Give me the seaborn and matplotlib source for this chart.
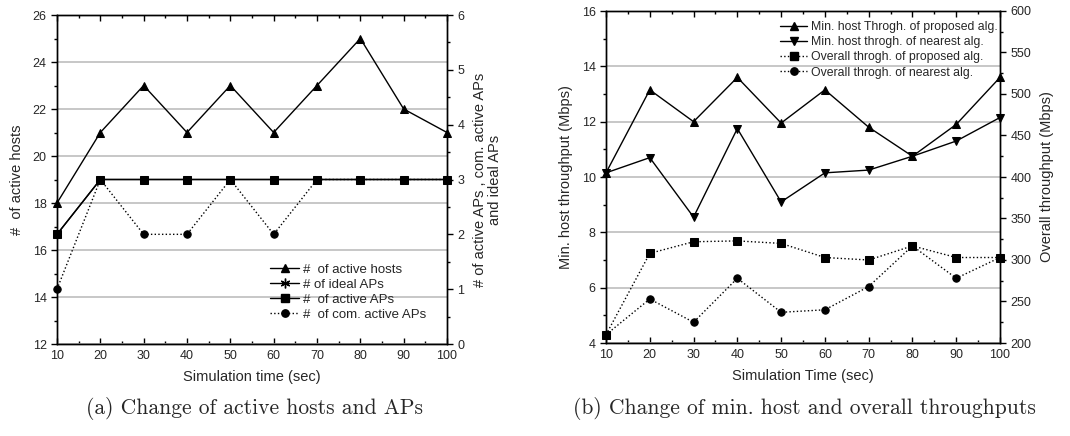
import numpy as np
import pandas as pd
import matplotlib
matplotlib.use("Agg")
import matplotlib.pyplot as plt
from matplotlib.ticker import MultipleLocator
from matplotlib.lines import Line2D
import seaborn as sns

# ---- data ----
time = [10, 20, 30, 40, 50, 60, 70, 80, 90, 100]

# (a) active hosts and APs
active_hosts = [18, 21, 23, 21, 23, 21, 23, 25, 22, 21]
ideal_aps = [2, 3, 3, 3, 3, 3, 3, 3, 3, 3]
active_aps = [2, 3, 3, 3, 3, 3, 3, 3, 3, 3]
com_active_aps = [1, 3, 2, 2, 3, 2, 3, 3, 3, 3]

# (b) throughputs
min_thr_proposed = [10.15, 13.15, 12.0, 13.6, 11.95, 13.15, 11.8, 10.75, 11.9, 13.6]
min_thr_nearest = [10.15, 10.7, 8.55, 11.75, 9.1, 10.15, 10.25, 10.75, 11.3, 12.15]
overall_proposed = [210, 308, 322, 323, 320, 303, 300, 317, 303, 303]
overall_nearest = [210, 253, 225, 278, 237, 240, 268, 317, 278, 303]

sns.set_style("ticks")
plt.rcParams["font.family"] = ["Liberation Sans", "DejaVu Sans"]
plt.rcParams["axes.linewidth"] = 1.0

W, H = 1070, 436
fig = plt.figure(figsize=(W / 100, H / 100), dpi=100)

TRI, SQ, CIR = 6, 5.2, 5.3


def box(x0, x1, y0, y1):
    return [x0 / W, 1 - y1 / H, (x1 - x0) / W, (y1 - y0) / H]


def style_axes(ax, ax2, ymaj, ymin, y2maj, y2min):
    ax.set_xlim(10, 100)
    ax.xaxis.set_major_locator(MultipleLocator(10))
    ax.xaxis.set_minor_locator(MultipleLocator(5))
    ax.yaxis.set_major_locator(MultipleLocator(ymaj))
    ax.yaxis.set_minor_locator(MultipleLocator(ymin))
    ax2.yaxis.set_major_locator(MultipleLocator(y2maj))
    ax2.yaxis.set_minor_locator(MultipleLocator(y2min))
    ax.tick_params(axis="x", which="both", direction="in", top=True, bottom=True,
                   labelsize=9, color="k", pad=4)
    ax.tick_params(axis="x", which="major", length=4, width=1)
    ax.tick_params(axis="x", which="minor", length=2.5, width=1)
    for a in (ax, ax2):
        a.tick_params(axis="y", which="both", direction="out", labelsize=9, color="k")
        a.tick_params(axis="y", which="major", length=4, width=1)
        a.tick_params(axis="y", which="minor", length=2.5, width=1)
    ax2.tick_params(axis="x", which="both", top=False, bottom=False, labelbottom=False)
    ax.grid(True, axis="y", which="major", color="#bdbdbd", lw=1.2)
    ax.set_axisbelow(True)
    for a in (ax, ax2):
        for s in a.spines.values():
            s.set_visible(True)
            s.set_color("k")


def draw(ax, y, marker, ls, ms, label):
    sns.lineplot(x=time, y=y, ax=ax, color="k", lw=1.0, linestyle=ls, marker=marker,
                 markersize=ms, markeredgecolor="k", markerfacecolor="k",
                 clip_on=False, label=label, legend=False)


# ---- (a) ----
ax = fig.add_axes(box(57, 447, 15, 344))
ax2 = ax.twinx()
draw(ax, active_hosts, "^", "-", TRI, "#  of active hosts")
# ideal APs coincide with active APs, so their stars sit under the squares
draw(ax2, ideal_aps, (6, 2, 0), "-", 4.5, "# of ideal APs")
draw(ax2, active_aps, "s", "-", SQ, "#  of active APs")
draw(ax2, com_active_aps, "o", ":", CIR, "#  of com. active APs")
ax.set_ylim(12, 26)
ax2.set_ylim(0, 6)
style_axes(ax, ax2, 2, 1, 1, 0.5)
ax.set_xlabel("Simulation time (sec)", fontsize=10.5, labelpad=6)
ax.set_ylabel("#  of active hosts", fontsize=10.5, labelpad=6)
ax2.set_ylabel("# of active APs , com. active APs\nand ideal APs", fontsize=10.5,
               labelpad=6, linespacing=1.15)
handles = [
    Line2D([], [], color="k", lw=1, marker="^", ms=TRI),
    Line2D([], [], color="k", lw=1, marker=(6, 2, 0), ms=7),
    Line2D([], [], color="k", lw=1, marker="s", ms=SQ),
    Line2D([], [], color="k", lw=1, ls=":", marker="o", ms=CIR),
]
labels = ["#  of active hosts", "# of ideal APs", "#  of active APs", "#  of com. active APs"]
ax2.legend(handles, labels, frameon=False, fontsize=9.5, loc="upper left",
           bbox_to_anchor=(0.533, 0.26), handlelength=2.2, handletextpad=0.3,
           labelspacing=0.2, borderaxespad=0)

# ---- (b) ----
bx = fig.add_axes(box(606, 1000, 11, 343))
bx2 = bx.twinx()
draw(bx, min_thr_proposed, "^", "-", TRI, "Min. host Throgh. of proposed alg.")
draw(bx, min_thr_nearest, "v", "-", TRI, "Min. host throgh. of nearest alg.")
draw(bx2, overall_proposed, "s", ":", SQ, "Overall throgh. of proposed alg.")
draw(bx2, overall_nearest, "o", ":", CIR, "Overall throgh. of nearest alg.")
bx.set_ylim(4, 16)
bx2.set_ylim(200, 600)
style_axes(bx, bx2, 2, 1, 50, 25)
bx.set_xlabel("Simulation Time (sec)", fontsize=10.5, labelpad=6)
bx.set_ylabel("Min. host throughput (Mbps)", fontsize=10.5, labelpad=6)
bx2.set_ylabel("Overall throughput (Mbps)", fontsize=10.5, labelpad=6)
handles = [
    Line2D([], [], color="k", lw=1, marker="^", ms=TRI),
    Line2D([], [], color="k", lw=1, marker="v", ms=TRI),
    Line2D([], [], color="k", lw=1, ls=":", marker="s", ms=SQ),
    Line2D([], [], color="k", lw=1, ls=":", marker="o", ms=CIR),
]
labels = ["Min. host Throgh. of proposed alg.", "Min. host throgh. of nearest alg.",
          "Overall throgh. of proposed alg.", "Overall throgh. of nearest alg."]
bx2.legend(handles, labels, frameon=False, fontsize=8.8, loc="upper left",
           bbox_to_anchor=(0.43, 0.985), handlelength=2.2, handletextpad=0.3,
           labelspacing=0.27, borderaxespad=0)

# ---- captions ----
fig.text(254 / W, 1 - 408 / H, "(a) Change of active hosts and APs",
         family="cmr10", fontsize=15.5, ha="center", va="center")
fig.text(804 / W, 1 - 408 / H, "(b) Change of min. host and overall throughputs",
         family="cmr10", fontsize=15.5, ha="center", va="center")

fig.savefig("out.png", dpi=100)
